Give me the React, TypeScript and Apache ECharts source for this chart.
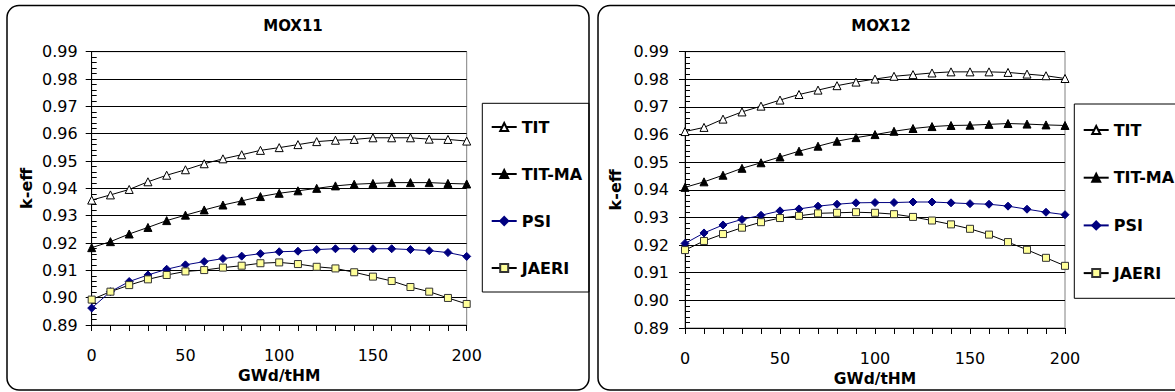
import React, { useEffect, useRef } from "react";
import * as echarts from "echarts";

const burnup = [0, 10, 20, 30, 40, 50, 60, 70, 80, 90, 100, 110, 120, 130, 140, 150, 160, 170, 180, 190, 200];

const mox11TIT = [0.9357, 0.9376, 0.9396, 0.9424, 0.9448, 0.9468, 0.9490, 0.9508, 0.9523, 0.9539, 0.9549, 0.9560, 0.9571, 0.9576, 0.9579, 0.9585, 0.9585, 0.9585, 0.9580, 0.9579, 0.9573];
const mox11TITMA = [0.9183, 0.9205, 0.9233, 0.9257, 0.9282, 0.9302, 0.9321, 0.9339, 0.9354, 0.9370, 0.9382, 0.9391, 0.9400, 0.9409, 0.9415, 0.9418, 0.9421, 0.9421, 0.9421, 0.9418, 0.9416];
const mox11PSI = [0.8962, 0.9022, 0.9059, 0.9083, 0.9104, 0.9120, 0.9132, 0.9143, 0.9152, 0.9161, 0.9168, 0.9170, 0.9176, 0.9179, 0.9179, 0.9179, 0.9179, 0.9176, 0.9172, 0.9165, 0.9151];
const mox11JAERI = [0.8993, 0.9022, 0.9046, 0.9067, 0.9083, 0.9096, 0.9101, 0.9110, 0.9117, 0.9126, 0.9129, 0.9123, 0.9113, 0.9107, 0.9093, 0.9077, 0.9061, 0.9039, 0.9022, 0.8999, 0.8977];

const mox12TIT = [0.9611, 0.9626, 0.9656, 0.9682, 0.9703, 0.9725, 0.9745, 0.9761, 0.9777, 0.9790, 0.9801, 0.9811, 0.9817, 0.9823, 0.9827, 0.9827, 0.9827, 0.9825, 0.9819, 0.9813, 0.9803];
const mox12TITMA = [0.9409, 0.9429, 0.9453, 0.9478, 0.9498, 0.9519, 0.9540, 0.9558, 0.9576, 0.9589, 0.9600, 0.9612, 0.9622, 0.9629, 0.9633, 0.9634, 0.9637, 0.9640, 0.9638, 0.9635, 0.9633];
const mox12PSI = [0.9206, 0.9244, 0.9273, 0.9293, 0.9308, 0.9324, 0.9331, 0.9341, 0.9348, 0.9353, 0.9354, 0.9354, 0.9356, 0.9356, 0.9353, 0.9350, 0.9348, 0.9341, 0.9330, 0.9319, 0.9310];
const mox12JAERI = [0.9182, 0.9215, 0.9240, 0.9263, 0.9283, 0.9298, 0.9306, 0.9315, 0.9317, 0.9319, 0.9317, 0.9312, 0.9302, 0.9289, 0.9275, 0.9259, 0.9238, 0.9211, 0.9183, 0.9154, 0.9125];

const seriesNames = ["TIT", "TIT-MA", "PSI", "JAERI"];
const chartTitles = ["MOX11", "MOX12"];
const xAxisTitle = "GWd/tHM";
const yAxisTitle = "k-eff";

const FONT = "DejaVu Sans, sans-serif";

export default function App() {
  const ref = useRef<HTMLDivElement>(null);

  useEffect(() => {
    if (!ref.current) return;
    const chart = echarts.init(ref.current, undefined, { renderer: "svg" });

    const styles = [
      { symbol: "triangle", symbolSize: 8, color: "#ffffff", border: "#000000", line: "#000000" },
      { symbol: "triangle", symbolSize: 8, color: "#000000", border: "#000000", line: "#000000" },
      { symbol: "diamond", symbolSize: 8, color: "#000080", border: "#000080", line: "#000080" },
      { symbol: "rect", symbolSize: 7, color: "#ffff99", border: "#333333", line: "#000000" },
    ];

    const makeSeries = (vals: number[], idx: number, axis: number) => {
      const s = styles[idx];
      return {
        name: seriesNames[idx],
        type: "line",
        xAxisIndex: axis,
        yAxisIndex: axis * 2,
        data: burnup.map((x, i) => [x, vals[i]]),
        symbol: s.symbol,
        symbolSize: s.symbolSize,
        showAllSymbol: true,
        lineStyle: { color: s.line, width: 1 },
        itemStyle: { color: s.color, borderColor: s.border, borderWidth: 1 },
        z: 3 + idx,
      };
    };

    const grids = [
      { left: 91.7, top: 51.7, width: 375, height: 273.3 },
      { left: 685, top: 51.7, width: 380, height: 276.3 },
    ];

    const xAxes = grids.map((_, gi) => ({
      type: "value",
      gridIndex: gi,
      min: 0,
      max: 200,
      interval: 10,
      name: xAxisTitle,
      nameLocation: "middle",
      nameGap: 36,
      nameTextStyle: { fontFamily: FONT, fontSize: 15.5, fontWeight: "bold", color: "#000" },
      axisLine: { show: true, lineStyle: { color: "#000", width: 1 } },
      axisTick: { show: true, inside: false, length: 6, lineStyle: { color: "#000" } },
      axisLabel: {
        show: true,
        margin: 22,
        fontFamily: FONT,
        fontSize: 16,
        color: "#000",
        formatter: (v: number) => (v % 50 === 0 ? String(v) : ""),
      },
      splitLine: { show: false },
    }));

    const yAxes: any[] = [];
    grids.forEach((_, gi) => {
      yAxes.push({
        type: "value",
        gridIndex: gi,
        position: "left",
        min: 0.89,
        max: 0.99,
        interval: 0.01,
        name: yAxisTitle,
        nameLocation: "middle",
        nameGap: gi === 0 ? 57 : 62,
        nameRotate: 90,
        nameTextStyle: { fontFamily: FONT, fontSize: 16, fontWeight: "bold", color: "#000" },
        axisLine: { show: true, lineStyle: { color: "#000", width: 1 } },
        axisTick: { show: true, inside: false, length: 6, lineStyle: { color: "#000" } },
        axisLabel: {
          show: true,
          margin: gi === 0 ? 14 : 16,
          fontFamily: FONT,
          fontSize: 16,
          color: "#000",
          formatter: (v: number) => v.toFixed(2),
        },
        splitLine: { show: true, lineStyle: { color: "#000", width: 1 } },
      });
      yAxes.push({
        type: "value",
        gridIndex: gi,
        position: "left",
        min: 0.89,
        max: 0.99,
        interval: 0.002,
        axisLine: { show: true, lineStyle: { color: "#000", width: 1 } },
        axisTick: { show: true, inside: true, length: 5, lineStyle: { color: "#000" } },
        axisLabel: { show: false },
        splitLine: { show: false },
      });
    });

    const legendBase = {
      orient: "vertical",
      padding: 0,
      itemWidth: 25,
      itemHeight: 10,
      selectedMode: false,
      data: seriesNames,
      textStyle: { fontFamily: FONT, fontSize: 16, fontWeight: "bold", color: "#000", lineHeight: 20 },
    };

    const option: any = {
      animation: false,
      backgroundColor: "#ffffff",
      title: [
        {
          text: chartTitles[0],
          left: 288,
          top: 13,
          textAlign: "center",
          textStyle: { fontFamily: FONT, fontSize: 15, fontWeight: "bold", color: "#000" },
        },
        {
          text: chartTitles[1],
          left: 876,
          top: 13,
          textAlign: "center",
          textStyle: { fontFamily: FONT, fontSize: 15, fontWeight: "bold", color: "#000" },
        },
      ],
      legend: [
        { ...legendBase, left: 490.7, top: 117, itemGap: 27 },
        { ...legendBase, left: 1082.7, top: 120, itemGap: 27.7 },
      ],
      grid: grids.map((g) => ({
        ...g,
        show: true,
        borderColor: "#808080",
        borderWidth: 1,
        backgroundColor: "transparent",
      })),
      xAxis: xAxes,
      yAxis: yAxes,
      graphic: [
        {
          type: "rect",
          shape: { x: 7, y: 5.5, width: 582, height: 384.5, r: 12 },
          style: { fill: "none", stroke: "#000", lineWidth: 1.5 },
          z: -1,
        },
        {
          type: "rect",
          shape: { x: 598, y: 5.5, width: 600, height: 384.5, r: 12 },
          style: { fill: "none", stroke: "#000", lineWidth: 1.5 },
          z: -1,
        },
        {
          type: "rect",
          shape: { x: 482.3, y: 103.3, width: 106.7, height: 188.7 },
          style: { fill: "none", stroke: "#000", lineWidth: 1 },
          z: -1,
        },
        {
          type: "rect",
          shape: { x: 1074.3, y: 104, width: 120, height: 194.3 },
          style: { fill: "none", stroke: "#000", lineWidth: 1 },
          z: -1,
        },
      ],
      series: [
        makeSeries(mox11TIT, 0, 0),
        makeSeries(mox11TITMA, 1, 0),
        makeSeries(mox11PSI, 2, 0),
        makeSeries(mox11JAERI, 3, 0),
        makeSeries(mox12TIT, 0, 1),
        makeSeries(mox12TITMA, 1, 1),
        makeSeries(mox12PSI, 2, 1),
        makeSeries(mox12JAERI, 3, 1),
      ],
    };

    chart.setOption(option);
    return () => chart.dispose();
  }, []);

  return (
    <div
      ref={ref}
      style={{ position: "fixed", left: 0, top: 0, width: 1175, height: 392, background: "#fff" }}
    />
  );
}
